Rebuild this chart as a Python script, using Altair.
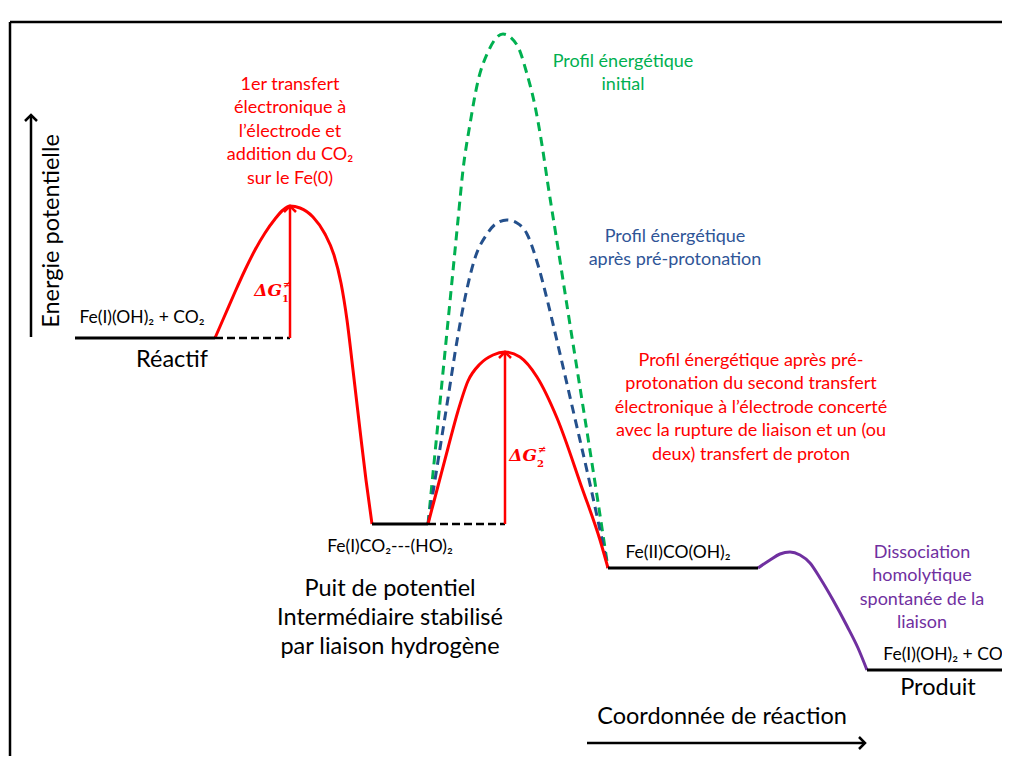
import altair as alt
import pandas as pd

W, H = 994, 748
X_DOMAIN = [8, 1002]
E_DOMAIN = [8, 756]

# ---- energy levels (reaction coordinate from/to, energy) ----
level_names = ["Réactif", "Intermédiaire", "Fe(II)CO(OH)2", "Produit"]
level_x1 = [75, 372, 608, 867]
level_x2 = [215, 428, 758, 1010]
level_e = [426, 240, 196, 94]

# dashed reference lines at the start level of each barrier
ref_x1 = [215, 428]
ref_x2 = [290, 505]
ref_e = [426, 240]

# barrier arrows (ΔG‡1, ΔG‡2)
barrier_x = [290, 505]
barrier_from = [426, 240]
barrier_to = [558, 412]

# ---- profiles ----
red1_x = [215, 225, 235, 245, 255, 265, 275, 283, 290, 300, 313, 325, 334, 341, 347, 353, 360, 366, 372]
red1_e = [426, 449, 472, 494, 514, 531, 545, 554, 558, 556, 547, 530, 509, 481, 444, 394, 334, 284, 240]

red2_x = [428, 438, 448, 458, 468, 480, 493, 505, 520, 537, 557, 582, 600, 608]
red2_e = [240, 278, 316, 353, 383, 400, 409, 412, 407, 387, 346, 276, 224, 196]

blue_x = [428, 438, 448, 457, 465, 475, 487, 497, 507, 517, 527, 538, 548, 557, 573, 590, 608]
blue_e = [240, 303, 366, 423, 466, 506, 530, 541, 544, 541, 530, 499, 461, 423, 354, 280, 196]

green_x = [428, 436, 444, 452, 458, 463, 470, 478, 488, 503, 517, 527, 535, 542,
           548, 558, 568, 578, 588, 598, 608]
green_e = [240, 321, 402, 483, 544, 594, 640, 683, 712, 730, 719, 690, 658, 619,
           579, 516, 452, 389, 326, 262, 196]

purple_x = [758, 770, 780, 790, 800, 810, 820, 833, 847, 858, 867]
purple_e = [196, 204, 210, 212, 209, 201, 186, 164, 138, 116, 94]

# ---- axes arrows and frame ----
yarrow_x = [31]
yarrow_from = [427]
yarrow_to = [649]
xarrow_e = [21]
xarrow_from = [587]
xarrow_to = [865]

frame_top_e = [742]
frame_left_x = [10]

# ---- texts ----
species_text = ["Fe(I)(OH)₂ + CO₂", "Fe(I)CO₂---(HO)₂", "Fe(II)CO(OH)₂", "Fe(I)(OH)₂ + CO"]
species_x = [142, 390, 678, 943]
species_e = [446, 217, 211, 109]

state_text = ["Réactif", "Puit de potentiel\nIntermédiaire stabilisé\npar liaison hydrogène",
              "Produit", "Coordonnée de réaction"]
state_x = [172, 390, 938, 722]
state_e = [404, 175, 76, 47]

note_text = [
    "1er transfert\nélectronique à\nl’électrode et\naddition du CO₂\nsur le Fe(0)",
    "Profil énergétique\ninitial",
    "Profil énergétique\naprès pré-protonation",
    "Profil énergétique après pré-\nprotonation du second transfert\nélectronique à l’électrode concerté\navec la rupture de liaison et un (ou\ndeux) transfert de proton",
    "Dissociation\nhomolytique\nspontanée de la\nliaison",
]
note_x = [290, 623, 675, 751, 922]
note_e = [679, 702, 527, 403, 211]
note_color = ["red", "green", "blue", "red", "purple"]

dg_labels = ["ΔG", "ΔG"]
dg_x = [282, 537]
dg_e = [468, 303]
dg_index = ["1", "2"]

COL = {"red": "#FF0000", "green": "#00B050", "blue": "#2F5597",
       "purple": "#7030A0", "bluecurve": "#24508C"}

FONT = "Lato"

xs = alt.Scale(domain=X_DOMAIN, nice=False, zero=False)
ys = alt.Scale(domain=E_DOMAIN, nice=False, zero=False)


def X(f="x"):
    return alt.X(f"{f}:Q", scale=xs, axis=None)


def Y(f="e"):
    return alt.Y(f"{f}:Q", scale=ys, axis=None)


layers = []

# frame
frame_top = pd.DataFrame({"x": [frame_left_x[0]], "x2": [1010], "e": frame_top_e})
layers.append(alt.Chart(frame_top).mark_rule(color="black", strokeWidth=2.5).encode(
    x=X(), x2="x2:Q", y=Y()))
frame_left = pd.DataFrame({"x": frame_left_x, "e": frame_top_e, "e2": [0]})
layers.append(alt.Chart(frame_left).mark_rule(color="black", strokeWidth=2.5).encode(
    x=X(), y=Y(), y2="e2:Q"))


def profile(xv, ev, color, dash=None, width=3):
    df = pd.DataFrame({"x": xv, "e": ev})
    kw = dict(color=color, strokeWidth=width, interpolate="monotone")
    if dash:
        kw["strokeDash"] = dash
    return alt.Chart(df).mark_line(**kw).encode(x=X(), y=Y(), order="x:Q")


layers.append(profile(green_x, green_e, COL["green"], dash=[9, 6]))
layers.append(profile(blue_x, blue_e, COL["bluecurve"], dash=[9, 6]))
layers.append(profile(red1_x, red1_e, COL["red"]))
layers.append(profile(red2_x, red2_e, COL["red"]))
layers.append(profile(purple_x, purple_e, COL["purple"]))

# levels
levels = pd.DataFrame({"name": level_names, "x": level_x1, "x2": level_x2, "e": level_e})
layers.append(alt.Chart(levels).mark_rule(color="black", strokeWidth=3).encode(
    x=X(), x2="x2:Q", y=Y()))
refs = pd.DataFrame({"x": ref_x1, "x2": ref_x2, "e": ref_e})
layers.append(alt.Chart(refs).mark_rule(color="black", strokeWidth=2.5, strokeDash=[8, 4]).encode(
    x=X(), x2="x2:Q", y=Y()))

# barrier arrows
bar = pd.DataFrame({"x": barrier_x, "e": barrier_from, "e2": barrier_to})
layers.append(alt.Chart(bar).mark_rule(color=COL["red"], strokeWidth=2.5).encode(
    x=X(), y=Y(), y2="e2:Q"))
bar_tip = pd.DataFrame({"x": barrier_x, "e": barrier_to})
UP = "M-1,1L0,0L1,1"
RIGHT = "M-1,-1L0,0L-1,1"
layers.append(alt.Chart(bar_tip).mark_point(shape=UP, filled=False, color=COL["red"],
                                            strokeWidth=2.5, size=144, opacity=1).encode(
    x=X(), y=Y()))

# axis arrows
ya = pd.DataFrame({"x": yarrow_x, "e": yarrow_from, "e2": yarrow_to})
layers.append(alt.Chart(ya).mark_rule(color="black", strokeWidth=2.5).encode(
    x=X(), y=Y(), y2="e2:Q"))
layers.append(alt.Chart(pd.DataFrame({"x": yarrow_x, "e": yarrow_to})).mark_point(
    shape=UP, filled=False, color="black", strokeWidth=2.5, size=144, opacity=1).encode(
    x=X(), y=Y()))
xa = pd.DataFrame({"x": xarrow_from, "x2": xarrow_to, "e": xarrow_e})
layers.append(alt.Chart(xa).mark_rule(color="black", strokeWidth=2.5).encode(
    x=X(), x2="x2:Q", y=Y()))
layers.append(alt.Chart(pd.DataFrame({"x": xarrow_to, "e": xarrow_e})).mark_point(
    shape=RIGHT, filled=False, color="black", strokeWidth=2.5, size=144, opacity=1).encode(
    x=X(), y=Y()))

# texts
sp = pd.DataFrame({"t": species_text, "x": species_x, "e": species_e})
layers.append(alt.Chart(sp).mark_text(font=FONT, fontSize=17.5, color="black",
                                      align="center", baseline="middle").encode(
    x=X(), y=Y(), text="t:N"))

st = pd.DataFrame({"t": state_text, "x": state_x, "e": state_e})
layers.append(alt.Chart(st).mark_text(font=FONT, fontSize=23.5, color="black",
                                      align="center", baseline="middle",
                                      lineBreak="\n", lineHeight=29).encode(
    x=X(), y=Y(), text="t:N"))

layers.append(alt.Chart(pd.DataFrame({"t": ["Energie potentielle"], "x": [52], "e": [533]}))
              .mark_text(font=FONT, fontSize=23.5, color="black", angle=270,
                         align="center", baseline="middle").encode(
    x=X(), y=Y(), text="t:N"))

nt = pd.DataFrame({"t": note_text, "x": note_x, "e": note_e, "c": note_color})
layers.append(alt.Chart(nt).mark_text(font=FONT, fontSize=18, align="center",
                                      baseline="middle", lineBreak="\n",
                                      lineHeight=23.4).encode(
    x=X(), y=Y(), text="t:N",
    color=alt.Color("c:N", scale=alt.Scale(domain=["red", "green", "blue", "purple"],
                                           range=[COL["red"], COL["green"], COL["blue"], COL["purple"]]),
                    legend=None)))

dg = pd.DataFrame({"t": dg_labels, "x": dg_x, "e": dg_e, "i": dg_index})
layers.append(alt.Chart(dg).mark_text(font="DejaVu Serif", fontSize=17, fontWeight="bold",
                                      fontStyle="italic", color=COL["red"], align="right",
                                      baseline="alphabetic").encode(
    x=X(), y=Y(), text="t:N"))
layers.append(alt.Chart(dg).mark_text(font="DejaVu Serif", fontSize=10, fontWeight="bold",
                                      color=COL["red"], align="left", baseline="middle",
                                      dx=1, dy=-11).encode(
    x=X(), y=Y(), text=alt.value("≠")))
layers.append(alt.Chart(dg).mark_text(font="DejaVu Serif", fontSize=10, fontWeight="bold",
                                      color=COL["red"], align="left", baseline="middle",
                                      dx=0, dy=3).encode(
    x=X(), y=Y(), text="i:N"))

chart = alt.layer(*layers).properties(
    width=W, height=H, padding=0, autosize="none", background="white"
).configure_view(stroke=None)

chart.save("out.html", embed_options={"renderer": "svg", "actions": False})
